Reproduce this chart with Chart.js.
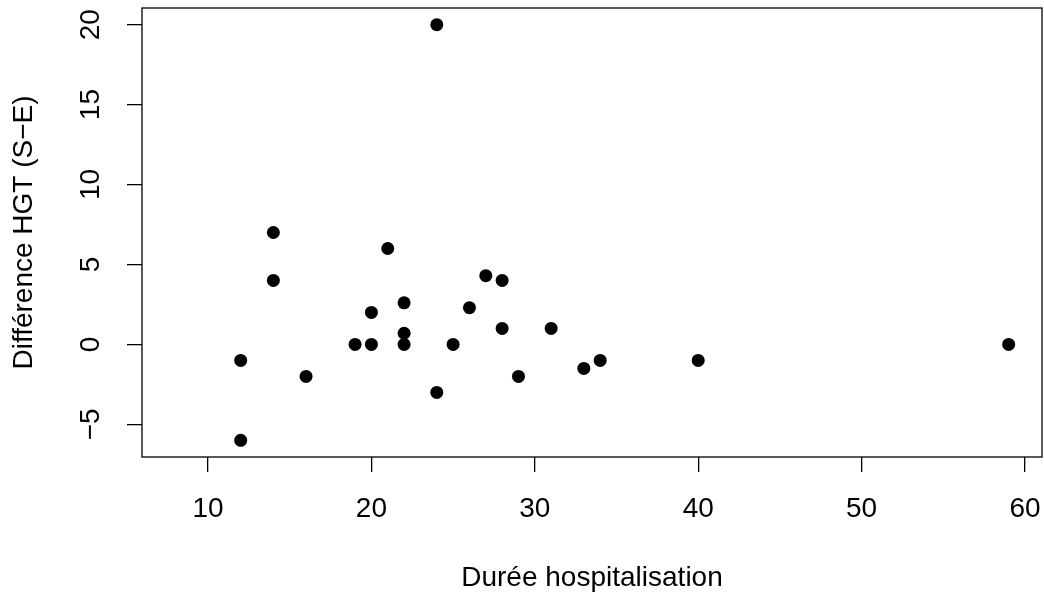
<!DOCTYPE html>
<html>
<head>
<meta charset="utf-8">
<script src="https://cdn.jsdelivr.net/npm/chart.js@4/dist/chart.umd.min.js"></script>
<style>
html,body{margin:0;padding:0;background:#fff;}
canvas{display:block;}
</style>
</head>
<body>
<canvas id="c" width="1044" height="592"></canvas>
<script>
const dureeHospitalisation = [12,12,14,14,16,19,20,20,21,22,22,22,24,24,25,26,27,28,28,29,31,33,34,40,59];
const differenceHGT = [-1,-6,7,4,-2,0,0,2,6,2.6,0.7,0,20,-3,0,2.3,4.3,4,1,-2,1,-1.5,-1,-1,0];
const xTicks = [10,20,30,40,50,60];
const yTicks = [-5,0,5,10,15,20];
const xTitle = 'Durée hospitalisation';
const yTitle = 'Différence HGT (S\u2212E)';

const points = dureeHospitalisation.map((x,i)=>({x:x, y:differenceHGT[i]}));
const fmt = v => (v < 0 ? '\u2212' + Math.abs(v) : String(v));
const FONT = {family: '"Liberation Sans", Arial, sans-serif', size: 28, lineHeight: 1};

const boxPlugin = {
  id: 'box',
  afterDraw(chart){
    const a = chart.chartArea, ctx = chart.ctx;
    ctx.save();
    ctx.strokeStyle = '#000';
    ctx.lineWidth = 1.3;
    ctx.strokeRect(a.left, a.top, a.right - a.left, a.bottom - a.top);
    ctx.restore();
  }
};

new Chart(document.getElementById('c'), {
  type: 'scatter',
  data: {datasets: [{data: points, backgroundColor: '#000', borderColor: '#000', pointRadius: 6.5, pointHoverRadius: 6.5, borderWidth: 0, clip: false}]},
  options: {
    responsive: false,
    animation: false,
    events: [],
    layout: {autoPadding: false, padding: {top: 8, right: 2, left: 0, bottom: 0}},
    plugins: {legend: {display: false}, tooltip: {enabled: false}},
    scales: {
      x: {
        type: 'linear', min: 5.96, max: 61.04,
        afterBuildTicks: s => { s.ticks = xTicks.map(v => ({value: v})); },
        afterFit: s => { s.height = 135; s.paddingLeft = 0; s.paddingRight = 0; },
        grid: {display: true, drawOnChartArea: false, drawTicks: true, tickLength: 15, color: '#000', lineWidth: 1.3},
        border: {display: false},
        ticks: {font: FONT, color: '#000', padding: 23, maxRotation: 0, autoSkip: false, callback: v => fmt(v)},
        title: {display: true, text: xTitle, font: FONT, color: '#000', padding: {top: 0, bottom: 0}}
      },
      y: {
        type: 'linear', min: -7.04, max: 21.04,
        afterBuildTicks: s => { s.ticks = yTicks.map(v => ({value: v})); },
        afterFit: s => { s.width = 142; s.paddingTop = 0; s.paddingBottom = 0; },
        grid: {display: true, drawOnChartArea: false, drawTicks: true, tickLength: 15, color: '#000', lineWidth: 1.3},
        border: {display: false},
        ticks: {font: FONT, color: '#000', padding: 20, minRotation: 90, maxRotation: 90, crossAlign: 'center', autoSkip: false, callback: v => fmt(v)},
        title: {display: true, text: yTitle, font: FONT, color: '#000', padding: {top: 10.5, bottom: 0}}
      }
    }
  },
  plugins: [boxPlugin]
});
</script>
</body>
</html>
